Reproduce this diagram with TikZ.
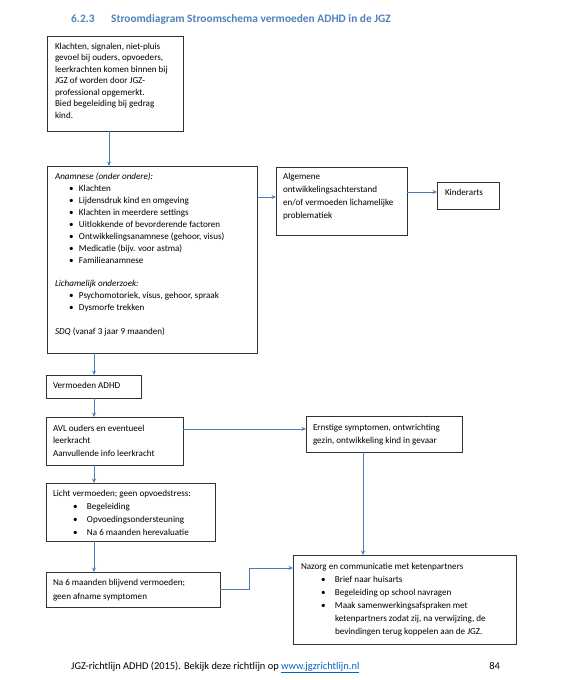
\documentclass[tikz,border=0pt]{standalone}
\usepackage{fontspec}
\setmainfont{Carlito}
\usetikzlibrary{arrows.meta,calc}
\definecolor{headblue}{HTML}{4F81BD}
\definecolor{linkblue}{HTML}{0563C1}
\definecolor{conn}{HTML}{4A7EBB}
\definecolor{boxline}{HTML}{333333}
\newcommand\blA[1]{\hspace*{14pt}\makebox[10pt][l]{\textbullet}#1}
\newcommand\blB[1]{\hspace*{20pt}\makebox[14pt][l]{\textbullet}#1}
\tikzset{
  box/.style={draw=boxline, line width=0.9pt, inner sep=0pt, outer sep=0pt, anchor=north west},
  txt/.style={inner sep=0pt, outer sep=0pt, anchor=north west, align=left, text=black},
  arr/.style={draw=conn, line width=0.8pt, -{Stealth[length=4.5pt,width=4pt]}},
}
\newcommand\fs[1]{\fontsize{9.1}{#1}\selectfont}
\newcommand\st{\rule{0pt}{8pt}}
\begin{document}
\begin{tikzpicture}[x=1pt,y=-1pt]
\useasboundingbox (0,0) rectangle (570,680);
% title
\node[anchor=base west, inner sep=0pt, font=\bfseries\fontsize{11.4}{13}\selectfont, text=headblue] (num) at (71,22) {6.2.3};
\node[anchor=base west, inner sep=0pt, font=\bfseries\fontsize{11.4}{13}\selectfont, text=headblue] (title) at (111,22) {Stroomdiagram Stroomschema vermoeden ADHD in de JGZ};
% boxes
\node[box, minimum width=136pt, minimum height=95pt] (b1) at (47,36) {};
\node[box, minimum width=210pt, minimum height=187pt] (b2) at (47,166) {};
\node[box, minimum width=131pt, minimum height=68pt] (b3) at (276,167) {};
\node[box, minimum width=62pt, minimum height=27pt] (kind) at (437,182) {};
\node[box, minimum width=95pt, minimum height=23pt] (verm) at (46,375) {};
\node[box, minimum width=137pt, minimum height=48pt] (avl) at (46,417) {};
\node[box, minimum width=156pt, minimum height=36pt] (ern) at (306,416) {};
\node[box, minimum width=169pt, minimum height=58pt] (licht) at (46,483) {};
\node[box, minimum width=174pt, minimum height=35pt] (na6) at (46,572) {};
\node[box, minimum width=223pt, minimum height=89pt] (naz) at (293,555) {};
% texts
\node[txt, font=\fs{11.5}] (t1) at (55,41) {\st Klachten, signalen, niet-pluis\\gevoel bij ouders, opvoeders,\\leerkrachten komen binnen bij\\JGZ of worden door JGZ-\\professional opgemerkt.\\Bied begeleiding bij gedrag\\kind.};
\node[txt, font=\fs{12}] (t2) at (55,171) {\st\textit{Anamnese (onder ondere):}\\
\blA{Klachten}\\
\blA{Lijdensdruk kind en omgeving}\\
\blA{Klachten in meerdere settings}\\
\blA{Uitlokkende of bevorderende factoren}\\
\blA{Ontwikkelingsanamnese (gehoor, visus)}\\
\blA{Medicatie (bijv. voor astma)}\\
\blA{Familieanamnese}\\[11.5pt]
\textit{Lichamelijk onderzoek:}\\
\blA{Psychomotoriek, visus, gehoor, spraak}\\
\blA{Dysmorfe trekken}\\[12pt]
\textit{SDQ} (vanaf 3 jaar 9 maanden)};
\node[txt, font=\fs{13.3}] (t3) at (283,171) {\st Algemene\\ontwikkelingsachterstand\\en/of vermoeden lichamelijke\\problematiek};
\node[txt, font=\fs{13}] (t4) at (445,187) {\st Kinderarts};
\node[txt, font=\fs{13}] (t5) at (53,380) {\st Vermoeden ADHD};
\node[txt, font=\fs{12.5}] (t6) at (53,423) {\st AVL ouders en eventueel\\leerkracht\\Aanvullende info leerkracht};
\node[txt, font=\fs{13.3}] (t7) at (313,422) {\st Ernstige symptomen, ontwrichting\\gezin, ontwikkeling kind in gevaar};
\node[txt, font=\fs{13.3}] (t8) at (53,488) {\st Licht vermoeden; geen opvoedstress:\\
\blB{Begeleiding}\\
\blB{Opvoedingsondersteuning}\\
\blB{Na 6 maanden herevaluatie}};
\node[txt, font=\fs{14}] (t9) at (53,577) {\st Na 6 maanden blijvend vermoeden;\\geen afname symptomen};
\node[txt, font=\fs{13}] (t10) at (301,561) {\st Nazorg en communicatie met ketenpartners\\
\blB{Brief naar huisarts}\\
\blB{Begeleiding op school navragen}\\
\blB{Maak samenwerkingsafspraken met}\\
\hspace*{34pt}ketenpartners zodat zij, na verwijzing, de\\
\hspace*{34pt}bevindingen terug koppelen aan de JGZ.};
% connectors
\draw[arr] (b1.south -| 109,0) -- (b2.north -| 109,0);
\draw[arr] (b2.east |- 0,197) -- (b3.west |- 0,197);
\draw[arr] (b3.east |- 0,192) -- (kind.west |- 0,192);
\draw[arr] (b2.south -| 94,0) -- (verm.north -| 94,0);
\draw[arr] (verm.south -| 94,0) -- (avl.north -| 94,0);
\draw[arr] (avl.east |- 0,429) -- (ern.west |- 0,429);
\draw[arr] (avl.south -| 94,0) -- (licht.north -| 94,0);
\draw[arr] (licht.south -| 94,0) -- (na6.north -| 94,0);
\draw[arr] (ern.south -| 363,0) -- (naz.north -| 363,0);
\draw[arr] (na6.east |- 0,589) -| (249,568) -- (naz.west |- 0,568);
% footer
\node[anchor=base west, inner sep=0pt, font=\fontsize{10.4}{12}\selectfont, text=black] (foot) at (71,669) {JGZ-richtlijn ADHD (2015). Bekijk deze richtlijn op \textcolor{linkblue}{\underline{www.jgzrichtlijn.nl}}};
\node[anchor=base east, inner sep=0pt, font=\fontsize{10.4}{12}\selectfont, text=black] (page) at (500,669) {84};
\end{tikzpicture}
\end{document}
